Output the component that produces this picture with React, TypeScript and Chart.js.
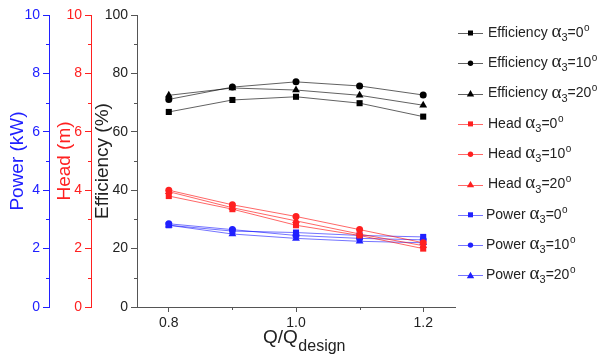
import React, { useEffect, useRef } from "react";
import { Chart, registerables } from "chart.js";

Chart.register(...registerables);

// Flow ratio Q/Q_design
const flowRatio = [0.8, 0.9, 1.0, 1.1, 1.2];

// Efficiency (%) for each outlet angle
const effA0 = [66.8, 70.9, 72.0, 69.8, 65.2];
const effA10 = [71.1, 75.3, 77.1, 75.7, 72.6];
const effA20 = [72.5, 75.0, 74.3, 72.5, 69.1];

// Head (m)
const headA0 = [3.8, 3.35, 2.8, 2.45, 2.0];
const headA10 = [4.0, 3.5, 3.1, 2.65, 2.2];
const headA20 = [3.95, 3.4, 2.95, 2.5, 2.1];

// Power (kW)
const powerA0 = [2.8, 2.6, 2.55, 2.45, 2.4];
const powerA10 = [2.85, 2.65, 2.45, 2.35, 2.3];
const powerA20 = [2.8, 2.5, 2.35, 2.25, 2.2];

// Axis ticks
const xTicks = [0.8, 1.0, 1.2];
const xMinorTicks = [0.9, 1.1];
const effMinorTicks = [10, 30, 50, 70, 90];
const sideMinorTicks = [1, 3, 5, 7, 9];

// Legend text parts
const quantityNames = ["Efficiency", "Head", "Power"];
const angles = ["0", "10", "20"];

const BLACK = "#000000";
const RED = "#ff2020";
const BLUE = "#2020ff";
const LINE_BLACK = "rgba(0,0,0,0.62)";
const LINE_RED = "rgba(255,0,0,0.6)";
const LINE_BLUE = "rgba(0,0,255,0.55)";
const FONT = "'Liberation Sans', Arial, sans-serif";
const SERIF = "'Liberation Serif', 'Times New Roman', serif";

const pointStyles = ["rect", "circle", "triangle"] as const;
const pointRadii = [4.3, 3.5, 4.5];

function series(values: number[]) {
  return values.map((v, i) => ({ x: flowRatio[i], y: v }));
}

function makeDatasets() {
  const groups = [
    { values: [effA0, effA10, effA20], color: BLACK, line: LINE_BLACK, axis: "yEff" },
    { values: [headA0, headA10, headA20], color: RED, line: LINE_RED, axis: "yHead" },
    { values: [powerA0, powerA10, powerA20], color: BLUE, line: LINE_BLUE, axis: "yPower" },
  ];
  const out: any[] = [];
  groups.forEach((g, gi) => {
    g.values.forEach((vals, ai) => {
      out.push({
        label: `${quantityNames[gi]} α3=${angles[ai]}°`,
        data: series(vals),
        yAxisID: g.axis,
        borderColor: g.line,
        backgroundColor: g.color,
        pointBackgroundColor: g.color,
        markerColor: g.color,
        borderWidth: 1,
        pointStyle: pointStyles[ai],
        pointRadius: pointRadii[ai],
        pointBorderWidth: 0,
        pointHoverRadius: pointRadii[ai],
        tension: 0,
      });
    });
  });
  return out;
}

const minorTicksPlugin = {
  id: "minorTicks",
  afterDraw(chart: any) {
    const ctx = chart.ctx;
    const draw = (id: string, values: number[], color: string) => {
      const s = chart.scales[id];
      ctx.save();
      ctx.strokeStyle = color;
      ctx.lineWidth = 1;
      ctx.beginPath();
      values.forEach((v) => {
        if (s.isHorizontal()) {
          const x = Math.round(s.getPixelForValue(v)) + 0.5;
          ctx.moveTo(x, s.top);
          ctx.lineTo(x, s.top + 3);
        } else {
          const y = Math.round(s.getPixelForValue(v)) + 0.5;
          ctx.moveTo(s.right, y);
          ctx.lineTo(s.right - 3, y);
        }
      });
      ctx.stroke();
      ctx.restore();
    };
    draw("x", xMinorTicks, "#555");
    draw("yEff", effMinorTicks, "#555");
    draw("yHead", sideMinorTicks, RED);
    draw("yPower", sideMinorTicks, BLUE);
  },
};

function drawMarker(ctx: CanvasRenderingContext2D, style: string, x: number, y: number, color: string) {
  ctx.fillStyle = color;
  if (style === "rect") {
    ctx.fillRect(x - 2.5, y - 2.5, 5, 5);
  } else if (style === "circle") {
    ctx.beginPath();
    ctx.arc(x, y, 2.7, 0, Math.PI * 2);
    ctx.fill();
  } else {
    ctx.beginPath();
    ctx.moveTo(x, y - 3.6);
    ctx.lineTo(x + 3.7, y + 2.8);
    ctx.lineTo(x - 3.7, y + 2.8);
    ctx.closePath();
    ctx.fill();
  }
}

const legendPlugin = {
  id: "sideLegend",
  afterDraw(chart: any) {
    const ctx: CanvasRenderingContext2D = chart.ctx;
    const datasets = chart.data.datasets;
    ctx.save();
    datasets.forEach((ds: any, i: number) => {
      const y = 33 + i * 30.3;
      const gi = Math.floor(i / 3);
      const ai = i % 3;
      ctx.strokeStyle = ds.borderColor;
      ctx.lineWidth = 1;
      ctx.beginPath();
      ctx.moveTo(458, Math.round(y) + 0.5);
      ctx.lineTo(483, Math.round(y) + 0.5);
      ctx.stroke();
      drawMarker(ctx, ds.pointStyle, 470.5, y, ds.markerColor);

      ctx.fillStyle = "#222";
      ctx.textBaseline = "middle";
      ctx.textAlign = "left";
      let x = gi === 2 ? 486 : 488;
      ctx.font = `14px ${FONT}`;
      const word = quantityNames[gi] + " ";
      ctx.fillText(word, x, y);
      x += ctx.measureText(word).width;
      ctx.font = `19px ${SERIF}`;
      ctx.fillText("α", x, y - 1);
      x += ctx.measureText("α").width;
      ctx.font = `11px ${FONT}`;
      ctx.fillText("3", x, y + 5);
      x += ctx.measureText("3").width;
      ctx.font = `14px ${FONT}`;
      const eq = "=" + angles[ai];
      ctx.fillText(eq, x, y);
      x += ctx.measureText(eq).width;
      ctx.font = `10px ${FONT}`;
      ctx.fillText("o", x + 0.5, y - 5);
    });
    ctx.restore();
  },
};

const xTitlePlugin = {
  id: "xTitle",
  afterDraw(chart: any) {
    const ctx: CanvasRenderingContext2D = chart.ctx;
    const s = chart.scales.x;
    ctx.save();
    ctx.fillStyle = "#222";
    ctx.textBaseline = "middle";
    ctx.textAlign = "left";
    ctx.font = `19px ${FONT}`;
    const main = "Q/Q";
    const wMain = ctx.measureText(main).width;
    ctx.font = `16px ${FONT}`;
    const sub = "design";
    const wSub = ctx.measureText(sub).width;
    const cx = (s.left + s.right) / 2 + 8;
    const x0 = cx - (wMain + wSub) / 2;
    ctx.font = `19px ${FONT}`;
    ctx.fillText(main, x0, 338);
    ctx.font = `16px ${FONT}`;
    ctx.fillText(sub, x0 + wMain + 0.5, 347);
    ctx.restore();
  },
};

function sideAxis(color: string, title: string, width: number, weight: number, titlePad: number) {
  return {
    type: "linear" as const,
    position: "left" as const,
    weight,
    min: 0,
    max: 10,
    ticks: {
      stepSize: 2,
      color,
      font: { family: FONT, size: 14 },
      padding: 3,
    },
    grid: {
      display: true,
      drawOnChartArea: false,
      drawTicks: true,
      tickLength: 6,
      color,
    },
    border: { display: true, color, width: 1 },
    title: {
      display: true,
      text: title,
      color,
      font: { family: FONT, size: 19 },
      padding: titlePad,
    },
    afterFit: (s: any) => {
      s.width = width;
    },
  };
}

export default function App() {
  const canvasRef = useRef<HTMLCanvasElement | null>(null);

  useEffect(() => {
    if (!canvasRef.current) return;
    const chart = new Chart(canvasRef.current, {
      type: "line",
      data: { datasets: makeDatasets() },
      options: {
        responsive: false,
        animation: false,
        layout: { padding: { left: 2, top: 15, right: 150, bottom: 0 } },
        plugins: {
          legend: { display: false },
          tooltip: { enabled: false },
        },
        scales: {
          x: {
            type: "linear",
            min: 0.75,
            max: 1.25,
            afterBuildTicks: (s: any) => {
              s.ticks = xTicks.map((v) => ({ value: v }));
            },
            ticks: {
              color: "#222",
              font: { family: FONT, size: 14 },
              padding: 3,
              callback: (v: any) => Number(v).toFixed(1),
            },
            grid: {
              display: true,
              drawOnChartArea: false,
              drawTicks: true,
              tickLength: 5,
              color: "#555",
            },
            border: { display: true, color: "#555", width: 1 },
            afterFit: (s: any) => {
              s.height = 56;
            },
          },
          yEff: {
            type: "linear",
            position: "left",
            weight: 1,
            min: 0,
            max: 100,
            ticks: {
              stepSize: 20,
              color: "#222",
              font: { family: FONT, size: 14 },
              padding: 3,
            },
            grid: {
              display: true,
              drawOnChartArea: false,
              drawTicks: true,
              tickLength: 6,
              color: "#555",
            },
            border: { display: true, color: "#555", width: 1 },
            title: {
              display: true,
              text: "Efficiency (%)",
              color: "#222",
              font: { family: FONT, size: 19 },
              padding: 0,
            },
            afterFit: (s: any) => {
              s.width = 46;
            },
          },
          yHead: sideAxis(RED, "Head (m)", 42, 2, 4),
          yPower: sideAxis(BLUE, "Power (kW)", 47, 3, 4),
        },
      } as any,
      plugins: [minorTicksPlugin, legendPlugin, xTitlePlugin],
    });
    return () => chart.destroy();
  }, []);

  return (
    <div style={{ position: "fixed", left: 0, top: 0, width: 605, height: 363, background: "#fff" }}>
      <canvas ref={canvasRef} width={605} height={363} />
    </div>
  );
}
